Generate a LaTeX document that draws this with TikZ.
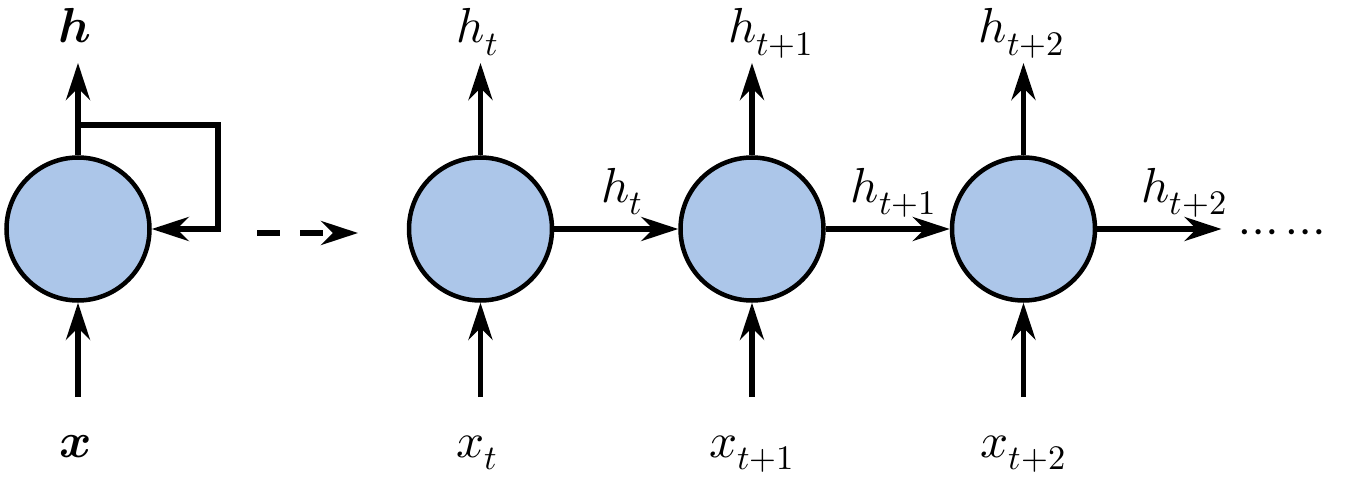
\documentclass[tikz,border=0pt]{standalone}
\usepackage{unicode-math}
\setmathfont{Latin Modern Math}
\usetikzlibrary{positioning}
\usetikzlibrary{calc}
\usetikzlibrary{arrows.meta}
\definecolor{cellblue}{RGB}{172,198,233}

\begin{document}
\begin{tikzpicture}[
    node distance=2.48cm,
    >={Stealth[length=0.74cm,width=0.48cm,inset=0.24cm]},
    % node styles
    cell/.style = {
      circle,
      draw=black,
      fill=cellblue,
      line width=0.09cm,
      minimum size=2.86cm,
      inner sep=0pt
    },
    lbl/.style = {
      anchor=base,
      inner sep=0pt,
      font=\fontsize{28}{32}\selectfont
    },
    % arrow styles
    arr/.style = {->, line width=0.11cm, draw=black},
    dasharr/.style = {->, line width=0.11cm, draw=black,
      dash pattern=on 0.46cm off 0.4cm}
  ]
  \useasboundingbox (0,0) rectangle (26.9,9.52);

  % --- Cells
  \node[cell] (fold) at (1.56,4.94) {};

  \node[cell, right=5.1cm of fold] (c1) {};

  \node[cell, right=of c1] (c2) {};

  \node[cell, right=of c2] (c3) {};

  % --- Free ends
  \coordinate (foldout) at ($(fold)+(0,3.32)$);
  \coordinate (foldin) at ($(fold)+(0,-3.36)$);
  \coordinate (looptop) at ($(fold)+(0,2.08)$);
  \coordinate (unfoldstart) at ($(fold)+(3.58,-0.08)$);
  \coordinate (unfoldend) at ($(fold)+(5.6,-0.08)$);
  \coordinate (c1out) at ($(c1)+(0,3.32)$);
  \coordinate (c1in) at ($(c1)+(0,-3.36)$);
  \coordinate (c2out) at ($(c2)+(0,3.32)$);
  \coordinate (c2in) at ($(c2)+(0,-3.36)$);
  \coordinate (c3out) at ($(c3)+(0,3.32)$);
  \coordinate (c3in) at ($(c3)+(0,-3.36)$);
  \coordinate (c3next) at ($(c3)+(3.96,0)$);

  % --- Labels
  \node[lbl] (h) at ($(fold)+(-0.06,3.72)$) {$\symbfit{h}$};
  \node[lbl] (x) at ($(fold)+(-0.04,-4.56)$) {$\symbfit{x}$};
  \node[lbl] (ht) at ($(c1)+(-0.06,3.72)$) {$h_t$};
  \node[lbl] (xt) at ($(c1)+(-0.06,-4.56)$) {$x_t$};
  \node[lbl] (ht1) at ($(c2)+(0.38,3.72)$) {$h_{t+1}$};
  \node[lbl] (xt1) at ($(c2)+(0,-4.56)$) {$x_{t+1}$};
  \node[lbl] (ht2) at ($(c3)+(-0.04,3.72)$) {$h_{t+2}$};
  \node[lbl] (xt2) at ($(c3)+(0,-4.56)$) {$x_{t+2}$};
  \node[lbl, anchor=base west] (dots) at ($(c3)+(4.32,-0.3)$) {$\cdots\cdots$};

  % --- Arrows
  \draw[arr] (fold) -- (foldout);
  \draw[arr] (foldin) -- (fold);
  \draw[arr] (looptop) -- ++(2.8,0) |- (fold.east);
  \draw[dasharr] (unfoldstart) -- (unfoldend);

  \draw[arr] (c1) -- (c1out);
  \draw[arr] (c1in) -- (c1);
  \draw[arr] (c2) -- (c2out);
  \draw[arr] (c2in) -- (c2);
  \draw[arr] (c3) -- (c3out);
  \draw[arr] (c3in) -- (c3);

  \draw[arr] (c1) -- node[lbl, midway, xshift=0.12cm, yshift=0.54cm] (hc1) {$h_t$} (c2);
  \draw[arr] (c2) -- node[lbl, midway, xshift=0.12cm, yshift=0.54cm] (hc2) {$h_{t+1}$} (c3);
  \draw[arr] (c3) -- node[lbl, midway, xshift=0.5cm, yshift=0.54cm] (hc3) {$h_{t+2}$} (c3next);

\end{tikzpicture}
\end{document}
